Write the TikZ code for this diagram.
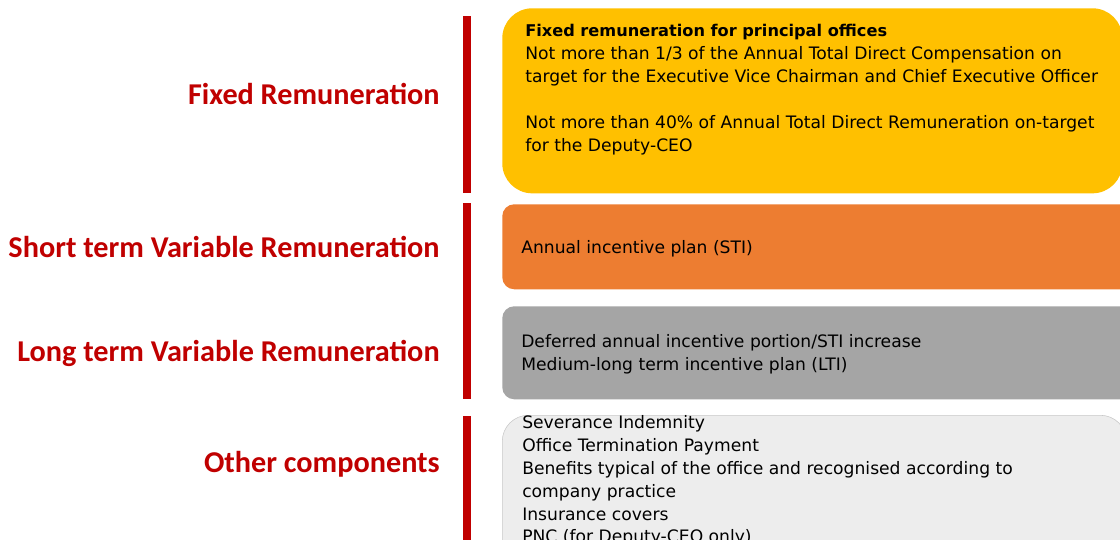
\documentclass[tikz,border=0pt]{standalone}
\usepackage{fontspec}
\setmainfont{DejaVu Sans}
\newfontfamily\labelfont{Carlito}
\usetikzlibrary{positioning}

\definecolor{barred}{HTML}{C00000}
\definecolor{fixedfill}{HTML}{FFC000}
\definecolor{stifill}{HTML}{ED7D31}
\definecolor{ltifill}{HTML}{A5A5A5}
\definecolor{otherfill}{HTML}{EDEDED}
\definecolor{otherdraw}{HTML}{C8C8C8}

\tikzset{
  part/.style={anchor=east, text=barred, inner sep=0pt,
    font=\labelfont\bfseries\fontsize{21.5}{25}\selectfont},
  panel/.style={anchor=north west, inner sep=0pt, minimum width=16cm},
  info/.style={anchor=north west, align=left, inner sep=0pt,
    font=\fontsize{12.2}{16.3}\selectfont},
}

\begin{document}
\begin{tikzpicture}[x=0.025cm, y=-0.025cm]
  \useasboundingbox (0,0) rectangle (1120,540);
  \clip (0,0) rectangle (1120,540);

  % red bars
  \fill[barred] (463,16) rectangle (471,193);
  \fill[barred] (463,203) rectangle (471,399);
  \fill[barred] (463,416) rectangle (471,545);

  % labels on the left
  \node[part] (fixedlbl) at (440,94) {Fixed Remuneration};
  \node[part] (stilbl) at (440,247) {Short term Variable Remuneration};
  \node[part] (ltilbl) at (440,353) {Long term Variable Remuneration};
  \node[part] (otherlbl) at (440,464) {Other components};

  % boxes
  \node[panel, fill=fixedfill, minimum width=15.5cm, minimum height=4.625cm,
    rounded corners=0.75cm] (fixed) at (502,8) {};
  \node[panel, fill=stifill, minimum height=2.125cm,
    rounded corners=0.3cm] (sti) at (502,204) {};
  \node[panel, fill=ltifill, minimum height=2.325cm,
    rounded corners=0.3cm] (lti) at (502,306) {};
  \node[panel, fill=otherfill, draw=otherdraw, minimum width=15.6cm,
    minimum height=4cm, rounded corners=0.65cm] (other) at (502,415) {};

  % box texts
  \node[info] (fixedtxt) at (525,24) {{\bfseries\fontsize{11.5}{16.3}\selectfont
    Fixed remuneration for principal offices}\\
    Not more than 1/3 of the Annual Total Direct Compensation on\\
    target for the Executive Vice Chairman and Chief Executive Officer\\[16.3pt]
    Not more than 40\% of Annual Total Direct Remuneration on-target\\
    for the Deputy-CEO};
  \node[info] (stitxt) at (521,240) {Annual incentive plan (STI)};
  \node[info] (ltitxt) at (521,334) {Deferred annual incentive portion/STI increase\\
    Medium-long term incentive plan (LTI)};
  \node[info] (othertxt) at (522,415) {Severance Indemnity\\
    Office Termination Payment\\
    Benefits typical of the office and recognised according to\\
    company practice\\
    Insurance covers\\
    PNC (for Deputy-CEO only)};
\end{tikzpicture}
\end{document}
